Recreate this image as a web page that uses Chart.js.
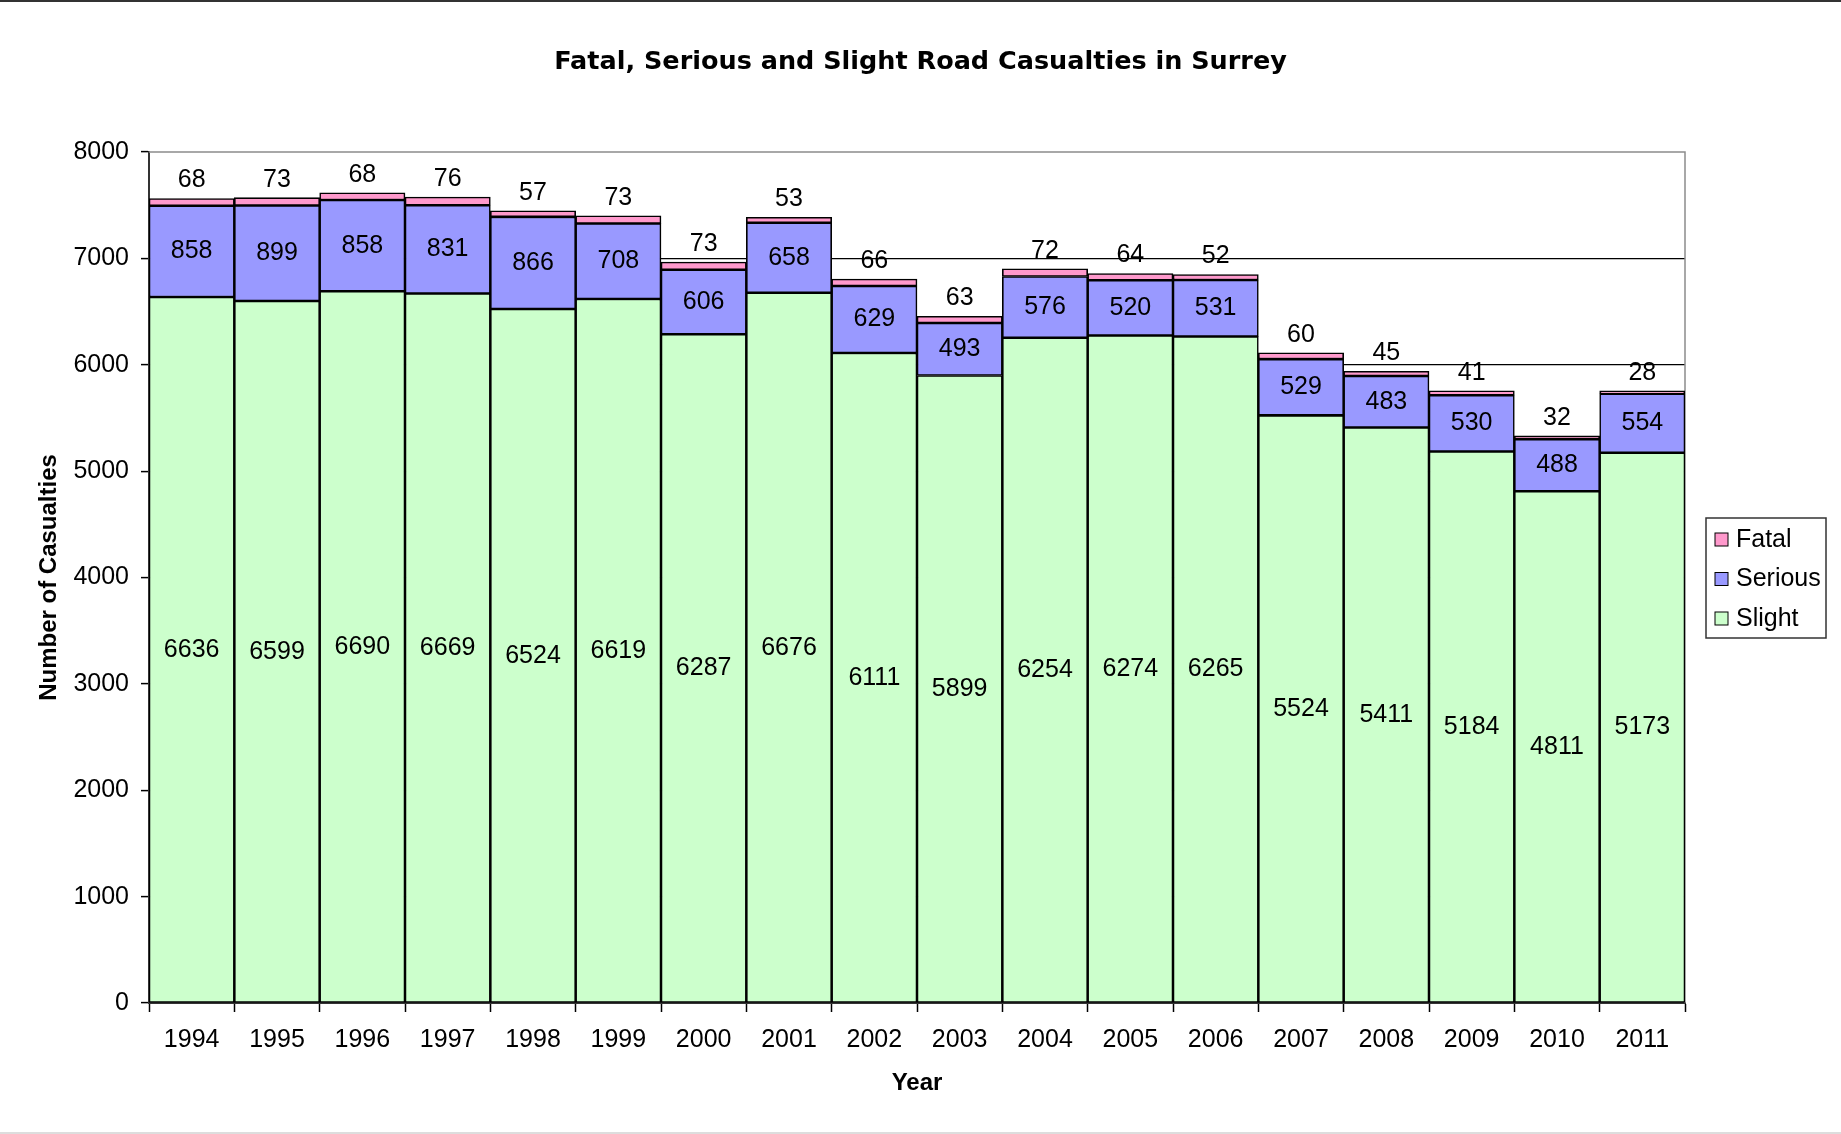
<!DOCTYPE html>
<html>
<head>
<meta charset="utf-8">
<script src="https://cdn.jsdelivr.net/npm/chart.js@4.4.1/dist/chart.umd.min.js"></script>
<style>
  html, body { margin: 0; padding: 0; background: #fff; }
  #wrap { position: relative; width: 1841px; height: 1134px; overflow: hidden; background: #fff; }
  #topline { position: absolute; left: 0; top: 0; width: 1841px; height: 2px; background: #333; }
  #botline { position: absolute; left: 0; bottom: 0; width: 1841px; height: 2px; background: #ddd; }
</style>
</head>
<body>
<div id="wrap">
  <canvas id="c" width="1841" height="1134"></canvas>
  <div id="topline"></div>
  <div id="botline"></div>
</div>
<script>
const years = ['1994','1995','1996','1997','1998','1999','2000','2001','2002','2003','2004','2005','2006','2007','2008','2009','2010','2011'];
const slight  = [6636, 6599, 6690, 6669, 6524, 6619, 6287, 6676, 6111, 5899, 6254, 6274, 6265, 5524, 5411, 5184, 4811, 5173];
const serious = [858, 899, 858, 831, 866, 708, 606, 658, 629, 493, 576, 520, 531, 529, 483, 530, 488, 554];
const fatal   = [68, 73, 68, 76, 57, 73, 73, 53, 66, 63, 72, 64, 52, 60, 45, 41, 32, 28];
const yTickValues = [0, 1000, 2000, 3000, 4000, 5000, 6000, 7000, 8000];

const chartTitle = 'Fatal, Serious and Slight Road Casualties in Surrey';
const xTitle = 'Year';
const yTitle = 'Number of Casualties';

const LABEL_FONT = '25px "Liberation Sans", Arial, sans-serif';

const titlePlugin = {
  id: 'centerTitle',
  afterDraw(chart) {
    const ctx = chart.ctx;
    ctx.save();
    ctx.font = 'bold 25.5px "DejaVu Sans", sans-serif';
    ctx.fillStyle = '#000';
    ctx.textAlign = 'center';
    ctx.textBaseline = 'middle';
    ctx.fillText(chartTitle, chart.width / 2, 62);
    ctx.restore();
  }
};

const labelPlugin = {
  id: 'segLabels',
  afterDatasetsDraw(chart) {
    const ctx = chart.ctx;
    ctx.save();
    ctx.font = LABEL_FONT;
    ctx.fillStyle = '#000';
    ctx.textAlign = 'center';
    ctx.textBaseline = 'middle';
    chart.data.datasets.forEach((ds, di) => {
      const meta = chart.getDatasetMeta(di);
      meta.data.forEach((el, i) => {
        const p = el.getProps(['x', 'y', 'base'], true);
        const v = ds.data[i];
        let ty;
        if (ds.labelOutside) ty = Math.min(p.y, p.base) - 18;
        else ty = (p.y + p.base) / 2;
        ctx.fillText(String(v), p.x, ty);
      });
    });
    ctx.restore();
  }
};

const framePlugin = {
  id: 'frame',
  beforeDatasetsDraw(chart) {
    const {ctx, chartArea: a} = chart;
    ctx.save();
    ctx.strokeStyle = '#8c8c8c';
    ctx.lineWidth = 1.5;
    ctx.beginPath();
    ctx.moveTo(a.left, a.top);
    ctx.lineTo(a.right, a.top);
    ctx.lineTo(a.right, a.bottom);
    ctx.stroke();
    ctx.restore();
  }
};

const legendPlugin = {
  id: 'boxLegend',
  afterDraw(chart) {
    const ctx = chart.ctx;
    const a = chart.chartArea;
    const bx = a.right + 21, by = 518, bw = 120, bh = 120;
    ctx.save();
    ctx.fillStyle = '#fff';
    ctx.fillRect(bx, by, bw, bh);
    ctx.strokeStyle = '#333';
    ctx.lineWidth = 1.5;
    ctx.strokeRect(bx, by, bw, bh);
    ctx.font = LABEL_FONT;
    ctx.textBaseline = 'middle';
    ctx.textAlign = 'left';
    const items = chart.data.datasets.slice().reverse();
    items.forEach((ds, k) => {
      const cy = by + 21 + k * 39.5;
      ctx.fillStyle = ds.backgroundColor;
      ctx.fillRect(bx + 9, cy - 6, 13, 13);
      ctx.strokeStyle = '#000';
      ctx.lineWidth = 1;
      ctx.strokeRect(bx + 9, cy - 6, 13, 13);
      ctx.fillStyle = '#000';
      ctx.fillText(ds.label, bx + 30, cy + 1);
    });
    ctx.restore();
  }
};

const commonBar = {
  borderColor: '#000',
  borderWidth: 1.6,
  borderSkipped: false,
  barPercentage: 1.0,
  categoryPercentage: 1.0,
  stack: 's'
};

new Chart(document.getElementById('c'), {
  type: 'bar',
  data: {
    labels: years,
    datasets: [
      Object.assign({ label: 'Slight', data: slight, backgroundColor: '#CCFFCC' }, commonBar),
      Object.assign({ label: 'Serious', data: serious, backgroundColor: '#9999FF' }, commonBar),
      Object.assign({ label: 'Fatal', data: fatal, backgroundColor: '#FF99CC', labelOutside: true }, commonBar)
    ]
  },
  options: {
    responsive: false,
    animation: false,
    layout: { padding: { left: 0, right: 156, top: 152, bottom: 0 } },
    plugins: {
      legend: { display: false },
      tooltip: { enabled: false },
      title: { display: false }
    },
    scales: {
      x: {
        stacked: true,
        offset: true,
        grid: { display: true, drawOnChartArea: false, drawTicks: true, tickLength: 9, tickColor: '#000', tickWidth: 1.5, offset: true },
        border: { display: true, color: '#333', width: 2 },
        ticks: { color: '#000', font: { family: '"Liberation Sans", Arial, sans-serif', size: 25 }, padding: 13, maxRotation: 0, autoSkip: false },
        title: { display: true, text: xTitle, color: '#000', font: { family: '"Liberation Sans", Arial, sans-serif', size: 24, weight: 'bold', lineHeight: 1.2 }, padding: { top: 0, bottom: 36 } },
        afterFit(s) { s.height = 131; }
      },
      y: {
        stacked: true,
        min: 0,
        max: 8000,
        afterBuildTicks(s) { s.ticks = yTickValues.map(v => ({ value: v })); },
        grid: {
          color: ctx => (ctx.tick && ctx.tick.value === 8000) ? 'rgba(0,0,0,0)' : '#000',
          lineWidth: 1.2,
          drawTicks: true,
          tickLength: 8,
          tickColor: '#000',
          tickWidth: 1.5
        },
        border: { display: true, color: '#333', width: 2 },
        ticks: { color: '#000', font: { family: '"Liberation Sans", Arial, sans-serif', size: 25 }, padding: 12, callback: v => String(v) },
        title: { display: true, text: yTitle, color: '#000', font: { family: '"Liberation Sans", Arial, sans-serif', size: 24, weight: 'bold', lineHeight: 1.2 }, padding: { top: 35, bottom: 0 } },
        afterFit(s) { s.width = 149; }
      }
    }
  },
  plugins: [framePlugin, labelPlugin, legendPlugin, titlePlugin]
});
</script>
</body>
</html>
